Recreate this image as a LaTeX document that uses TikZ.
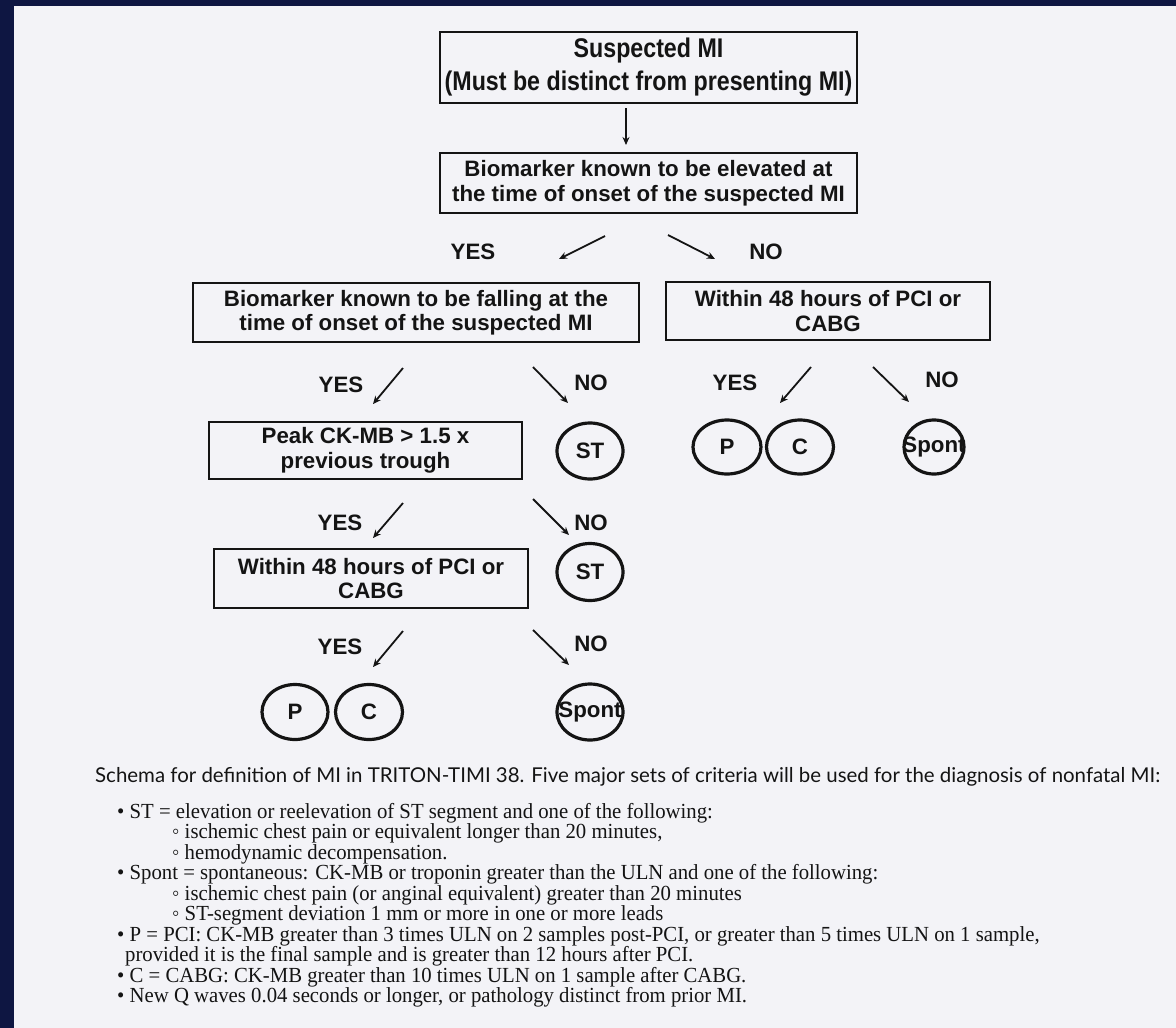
\documentclass[tikz,border=0pt]{standalone}
\usepackage{fontspec}
\setmainfont{Liberation Serif}[FakeStretch=0.965]
\newfontfamily\dsans{Liberation Sans}
\newfontfamily\tallsans{Liberation Sans}[FakeStretch=0.86]
\newfontfamily\capfont{Lato}
\usetikzlibrary{arrows.meta,shapes.geometric}
\definecolor{navy}{HTML}{0E1642}
\definecolor{paper}{HTML}{F3F3F7}
\definecolor{ink}{HTML}{141414}
\begin{document}
\begin{tikzpicture}[x=1pt,y=-1pt,
  box/.style={draw=ink, line width=2.6pt, inner sep=0pt, align=center,
    text=ink, font=\dsans\bfseries\fontsize{22.3}{24.5}\selectfont},
  lab/.style={inner sep=0pt, text=ink, font=\dsans\bfseries\fontsize{22.3}{24.5}\selectfont},
  ring/.style={ellipse, draw=ink, line width=3.2pt, inner sep=0pt, text=ink,
    font=\dsans\bfseries\fontsize{22.3}{24.5}\selectfont},
  arr/.style={draw=ink, line width=1.8pt, -{Stealth[length=8pt,width=7pt]}},
  btxt/.style={anchor=base west, inner sep=0pt, text=ink, font=\fontsize{21.5}{22}\selectfont}
]
\useasboundingbox (0,0) rectangle (1176,1028);
\fill[navy] (0,0) rectangle (1176,1028);
\fill[paper] (14,6) rectangle (1176,1028);

% boxes
\node[box, minimum width=417pt, minimum height=71pt,
  font=\tallsans\bfseries\fontsize{27}{33}\selectfont] (b1) at (648.5,67.5)
  {Suspected MI\\(Must be distinct from presenting MI)};
\node[box, minimum width=417pt, minimum height=60pt] (b2) at (648.5,183)
  {Biomarker known to be elevated at\\the time of onset of the suspected MI};
\node[box, minimum width=446pt, minimum height=59pt] (b3) at (416,312.5)
  {Biomarker known to be falling at the\\time of onset of the suspected MI};
\node[box, minimum width=324pt, minimum height=58pt] (b4) at (828,311)
  {Within 48 hours of PCI or\\CABG};
\node[box, minimum width=313pt, minimum height=57pt] (b5) at (365.5,450.5)
  {Peak CK-MB > 1.5 x\\previous trough};
\node[box, minimum width=314pt, minimum height=59pt] (b6) at (371,578.5)
  {Within 48 hours of PCI or\\CABG};

% circles
\node[ring, minimum width=66pt, minimum height=56pt] (st1) at (590,451) {\makebox[0pt]{ST}};
\node[ring, minimum width=68pt, minimum height=54pt] (p1) at (727,447) {\makebox[0pt]{P}};
\node[ring, minimum width=67pt, minimum height=54pt] (c1) at (800,447) {\makebox[0pt]{C}};
\node[ring, minimum width=60pt, minimum height=54pt] (sp1) at (934,447) {\makebox[0pt]{Spont}};
\node[ring, minimum width=66pt, minimum height=57pt] (st2) at (590,572) {\makebox[0pt]{ST}};
\node[ring, minimum width=66pt, minimum height=55pt] (p2) at (295,712) {\makebox[0pt]{P}};
\node[ring, minimum width=67pt, minimum height=55pt] (c2) at (369,712) {\makebox[0pt]{C}};
\node[ring, minimum width=66pt, minimum height=56pt] (sp2) at (590,712) {\makebox[0pt]{Spont}};

% labels
\node[lab] (y1) at (473,252) {YES};
\node[lab] (n1) at (766,252) {NO};
\node[lab] (y2) at (341,385) {YES};
\node[lab] (n2) at (591,383) {NO};
\node[lab] (y3) at (735,383) {YES};
\node[lab] (n3) at (942,380) {NO};
\node[lab] (y4) at (340,523) {YES};
\node[lab] (n4) at (591,523) {NO};
\node[lab] (y5) at (340,647) {YES};
\node[lab] (n5) at (591,644) {NO};

% arrow end points
\coordinate (a0s) at (626,108); \coordinate (a0e) at (626,145);
\coordinate (a1s) at (605,236); \coordinate (a1e) at (559,259);
\coordinate (a2s) at (668,235); \coordinate (a2e) at (715,259);
\coordinate (a3s) at (403,368); \coordinate (a3e) at (373,404);
\coordinate (a4s) at (533,367); \coordinate (a4e) at (568,403);
\coordinate (a5s) at (811,367); \coordinate (a5e) at (780,403);
\coordinate (a6s) at (873,367); \coordinate (a6e) at (909,402);
\coordinate (a7s) at (403,503); \coordinate (a7e) at (373,538);
\coordinate (a8s) at (533,499); \coordinate (a8e) at (569,535);
\coordinate (a9s) at (403,631); \coordinate (a9e) at (373,667);
\coordinate (a10s) at (533,630); \coordinate (a10e) at (569,665);
\foreach \i in {0,...,10} { \draw[arr] (a\i s) -- (a\i e); }

% caption
\node[anchor=base west, inner sep=0pt, text=ink] (cap) at (95,782)
  {\resizebox{1065pt}{!}{\capfont\fontsize{18}{20}\selectfont Schema for definition of MI in TRITON-TIMI 38. Five major sets of criteria will be used for the diagnosis of nonfatal MI:}};

% bullet list
\node[btxt] (l1) at (117,818) {• ST = elevation or reelevation of ST segment and one of the following:};
\node[btxt] (l2) at (172,838.5) {◦ ischemic chest pain or equivalent longer than 20 minutes,};
\node[btxt] (l3) at (172,859) {◦ hemodynamic decompensation.};
\node[btxt] (l4) at (117,879.5) {• Spont = spontaneous: CK-MB or troponin greater than the ULN and one of the following:};
\node[btxt] (l5) at (172,900) {◦ ischemic chest pain (or anginal equivalent) greater than 20 minutes};
\node[btxt] (l6) at (172,920.5) {◦ ST-segment deviation 1 mm or more in one or more leads};
\node[btxt] (l7) at (117,941) {• P = PCI: CK-MB greater than 3 times ULN on 2 samples post-PCI, or greater than 5 times ULN on 1 sample,};
\node[btxt] (l8) at (125,961.5) {provided it is the final sample and is greater than 12 hours after PCI.};
\node[btxt] (l9) at (117,982) {• C = CABG: CK-MB greater than 10 times ULN on 1 sample after CABG.};
\node[btxt] (l10) at (117,1002.5) {• New Q waves 0.04 seconds or longer, or pathology distinct from prior MI.};
\end{tikzpicture}
\end{document}
